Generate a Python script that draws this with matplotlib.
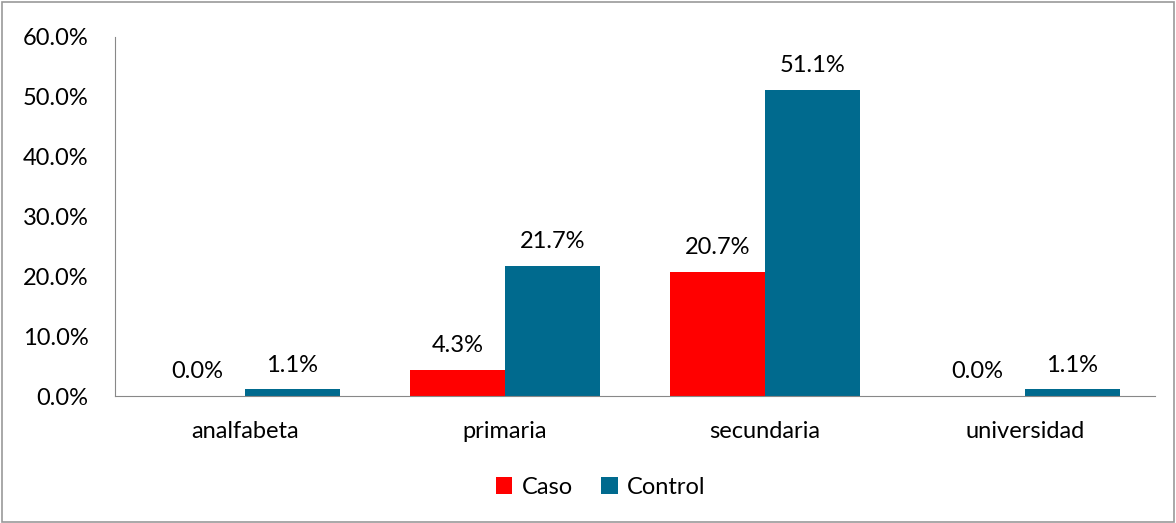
import numpy as np
import matplotlib.pyplot as plt
from matplotlib.patches import Rectangle

# Daten
kategorien = ["analfabeta", "primaria", "secundaria", "universidad"]
caso = [0.0, 4.3, 20.7, 0.0]
control = [1.1, 21.7, 51.1, 1.1]

plt.rcParams['font.family'] = ['Lato', 'DejaVu Sans']
fs = 17

fig = plt.figure(figsize=(11.76, 5.23), dpi=100)
ax = fig.add_axes([0.0978, 0.2428, 0.8844, 0.6865])

x = np.arange(len(kategorien))
b = 0.365
bars_caso = ax.bar(x - b / 2, caso, b, color='#FF0000', label='Caso')
bars_ctrl = ax.bar(x + b / 2, control, b, color='#006A8E', label='Control')

for bars in (bars_caso, bars_ctrl):
    for r in bars:
        ax.annotate(f"{r.get_height():.1f}%", (r.get_x() + r.get_width() / 2, r.get_height()),
                    xytext=(0, 10), textcoords='offset points', ha='center', va='bottom',
                    fontsize=fs)

ax.set_xlim(-0.5, 3.5)
ax.set_ylim(0, 60)
ax.set_yticks(np.arange(0, 61, 10))
ax.set_yticklabels([f"{v:.1f}%" for v in range(0, 61, 10)], fontsize=fs)
ax.set_xticks(x)
ax.set_xticklabels(kategorien, fontsize=fs)
ax.tick_params(axis='x', length=0, pad=18)
ax.tick_params(axis='y', length=0, pad=19)
for s in ('top', 'right'):
    ax.spines[s].set_visible(False)
for s in ('left', 'bottom'):
    ax.spines[s].set_color('#888888')

ax.legend(loc='upper center', bbox_to_anchor=(0.467, -0.165), ncol=2, frameon=False,
          fontsize=fs, handlelength=0.7, handleheight=0.7, handletextpad=0.4, columnspacing=1.2)

# Rahmen um die Grafik
fig.patches.append(Rectangle((0.002, 0.002), 0.996, 0.994, transform=fig.transFigure,
                             fill=False, edgecolor='#999999', lw=1.2))

fig.savefig('out.png', dpi=100)
